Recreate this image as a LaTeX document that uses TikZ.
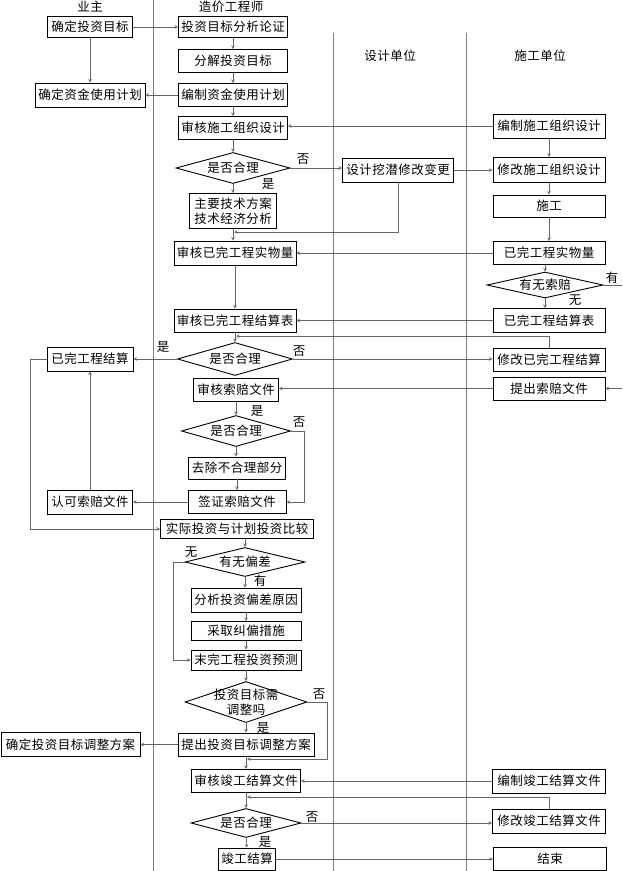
\documentclass[tikz,border=0pt]{standalone}
\usepackage{fontspec}
\setmainfont{Noto Sans CJK SC}[LetterSpace=4]
\usetikzlibrary{shapes.geometric}

\begin{document}
\begin{tikzpicture}[x=1pt, y=-1pt,
    every node/.style={font=\fontsize{12.5}{15}\selectfont},
    box/.style={draw=black, line width=0.9pt, inner xsep=2pt, inner ysep=2pt, minimum height=23, align=center},
    dec/.style={draw=black, line width=0.9pt, diamond, aspect=4, inner sep=0pt, align=center},
    lane/.style={draw=black!50, line width=0.6pt},
    link/.style={draw=black!60, line width=0.6pt},
    go/.style={link, ->, >=stealth}]
        \useasboundingbox (0,0) rectangle (622,871);
        \draw[lane] (153,0) -- (153,871);
        \draw[lane] (333,33) -- (333,871);
        \draw[lane] (466,33) -- (466,871);
        \node at (90,7) (h1) {业主};
        \node at (231,7) (h2) {造价工程师};
        \node at (390,56) (h3) {设计单位};
        \node at (540,56) (h4) {施工单位};

        \node[box, minimum width=85, minimum height=21] at (90,27) (mbA) {确定投资目标};
        \node[box, minimum width=110, minimum height=24] at (90,95) (jhA) {确定资金使用计划};
        \node[box, minimum width=86, minimum height=24] at (90,359) (jsA) {已完工程结算};
        \node[box, minimum width=85, minimum height=24] at (90,502) (rkA) {认可索赔文件};
        \node[box, minimum width=139, minimum height=24] at (70.5,744.5) (tzA) {确定投资目标调整方案};

        \node[box, minimum width=109, minimum height=21] at (233,27) (c1) {投资目标分析论证};
        \node[box, minimum width=109] at (233,61) (c2) {分解投资目标};
        \node[box, minimum width=109] at (233,95) (c3) {编制资金使用计划};
        \node[box, minimum width=109] at (233,128) (c4) {审核施工组织设计};
        \node[dec, minimum width=114, minimum height=31] at (233,168) (d1) {是否合理};
        \node[box, minimum width=87, minimum height=35] at (233,211) (c5) {主要技术方案\\技术经济分析};
        \node[box, minimum width=122, minimum height=24] at (235,253) (c6) {审核已完工程实物量};
        \node[box, minimum width=122] at (235,320.5) (c7) {审核已完工程结算表};
        \node[dec, minimum width=115, minimum height=33] at (235,359) (d2) {是否合理};
        \node[box, minimum width=85] at (236,390) (c8) {审核索赔文件};
        \node[dec, minimum width=109, minimum height=31] at (236,431) (d3) {是否合理};
        \node[box, minimum width=97, minimum height=22] at (237,468) (c9) {去除不合理部分};
        \node[box, minimum width=98] at (237,502) (c10) {签证索赔文件};
        \node[box, minimum width=153, minimum height=19] at (237,529) (c11) {实际投资与计划投资比较};
        \node[dec, minimum width=120, minimum height=29] at (245,562) (d4) {有无偏差};
        \node[box, minimum width=110, minimum height=24] at (246,600) (c12) {分析投资偏差原因};
        \node[box, minimum width=110, minimum height=19] at (246,631) (c13) {采取纠偏措施};
        \node[box, minimum width=110, minimum height=20] at (246,660) (c14) {末完工程投资预测};
        \node[dec, aspect=3, inner sep=-3pt, minimum width=122, minimum height=41] at (246,702) (d5) {投资目标需\\调整吗};
        \node[box, minimum width=136] at (246,744.5) (c15) {提出投资目标调整方案};
        \node[box, minimum width=109] at (246,781) (c16) {审核竣工结算文件};
        \node[dec, minimum width=110, minimum height=29] at (246,823) (d6) {是否合理};
        \node[box, minimum width=57, minimum height=22] at (247,859) (c17) {竣工结算};

        \node[box, minimum width=111, minimum height=24] at (398,170) (s1) {设计挖潜修改变更};

        \node[box, minimum width=112, minimum height=24] at (549,126) (g1) {编制施工组织设计};
        \node[box, minimum width=112, minimum height=25] at (549,170) (g2) {修改施工组织设计};
        \node[box, minimum width=112, minimum height=22] at (549,206) (g3) {施工};
        \node[box, minimum width=112] at (549,253) (g4) {已完工程实物量};
        \node[dec, minimum width=116, minimum height=26] at (545,285) (gd) {有无索赔};
        \node[box, minimum width=112, minimum height=24] at (549,320.5) (g5) {已完工程结算表};
        \node[box, minimum width=112] at (549,360) (g6) {修改已完工程结算};
        \node[box, minimum width=112] at (549,388.5) (g7) {提出索赔文件};
        \node[box, minimum width=113, minimum height=24] at (549,781) (g8) {编制竣工结算文件};
        \node[box, minimum width=113, minimum height=24] at (549,821) (g9) {修改竣工结算文件};
        \node[box, minimum width=113] at (550,859) (g10) {结束};

        \node at (303,159) (n1) {否};
        \node at (268,184) (y1) {是};
        \node at (163,347) (y2) {是};
        \node at (299,351) (n2) {否};
        \node at (257,411) (y3) {是};
        \node at (299,422) (n3) {否};
        \node at (191,552) (w1) {无};
        \node at (260,581) (u1) {有};
        \node at (319,694) (n4) {否};
        \node at (263,728) (y4) {是};
        \node at (312,817) (n5) {否};
        \node at (265,842) (y5) {是};
        \node at (612,278) (u2) {有};
        \node at (575,300) (w2) {无};

        \draw[go] (mbA) -- (c1);
        \draw[go] (mbA) -- (jhA);
        \draw[go] (c1) -- (c2);
        \draw[go] (c2) -- (c3);
        \draw[go] (c3) -- (c4);
        \draw[go] (c3) -- (jhA);
        \draw[go] (c4) -- (d1);
        \draw[go] (g1.west) -- (g1.west -| c4.east);
        \draw[go] (g1) -- (g2);
        \draw[go] (d1.east) -- (d1.east -| s1.west);
        \draw[go] (d1) -- (c5);
        \draw[go] (s1) -- (g2);
        \coordinate (j1) at (234,232);
        \draw[go] (s1.south) |- (j1);
        \draw[go] (c5.south) -- (c5.south |- c6.north);
        \draw[go] (g2) -- (g3);
        \draw[go] (g3) -- (g4);
        \draw[go] (g4) -- (c6);
        \draw[go] (g4.south -| gd.north) -- (gd.north);
        \draw[go] (gd.south) -- (gd.south |- g5.north);
        \coordinate (e1) at (622,285);
        \draw[link] (gd.east) -- (e1);
        \coordinate (e2) at (622,388.5);
        \draw[go] (e2) -- (g7.east);
        \draw[go] (c6) -- (c7);
        \draw[go] (g5) -- (c7);
        \draw[go] (c7) -- (d2);
        \coordinate (j2) at (236,336);
        \draw[go] (g6.north) |- (j2);
        \draw[go] (d2) -- (jsA);
        \draw[go] (d2.east) -- (d2.east -| g6.west);
        \draw[go] (g7.west) -- (g7.west -| c8.east);
        \draw[go] (c8) -- (d3);
        \draw[go] (d3.south) -- (d3.south |- c9.north);
        \draw[go] (d3.east) -- ++(13,0) |- (c10.east);
        \draw[go] (c9) -- (c10);
        \draw[go] (c10) -- (rkA);
        \draw[go] (rkA) -- (jsA);
        \draw[go] (jsA.west) -- ++(-16,0) |- (c11.west);
        \draw[go] (c11.south -| d4.north) -- (d4.north);
        \draw[go] (d4.west) -- ++(-11,0) |- (c14.west);
        \draw[go] (d4.south) -- (d4.south |- c12.north);
        \draw[go] (c12) -- (c13);
        \draw[go] (c13) -- (c14);
        \draw[go] (c14) -- (d5);
        \draw[go] (d5) -- (c15);
        \coordinate (j3) at (247,759);
        \draw[go] (d5.east) -- ++(20,0) |- (j3);
        \draw[go] (c15) -- (tzA);
        \draw[go] (c15) -- (c16);
        \draw[go] (g8) -- (c16);
        \draw[go] (c16) -- (d6);
        \coordinate (j4) at (247,797);
        \draw[go] (g9.north) |- (j4);
        \draw[go] (d6.east) -- (d6.east -| g9.west);
        \draw[go] (d6) -- (c17);
        \draw[go] (c17.east) -- (c17.east -| g10.west);
      \end{tikzpicture}
\end{document}
